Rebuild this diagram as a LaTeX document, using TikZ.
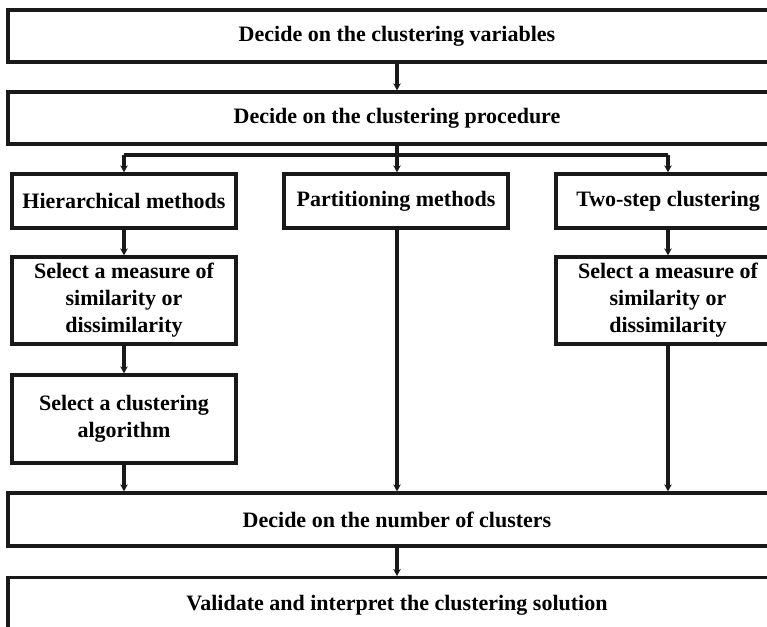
\documentclass[tikz,border=0pt]{standalone}
\usepackage{fontspec}
\setmainfont{Liberation Serif}
\usetikzlibrary{arrows.meta,shadows}
\begin{document}
\begin{tikzpicture}[x=1pt,y=-1pt,
  box/.style={draw=black!90,line width=3.3pt,fill=white,align=center,
    font=\bfseries\fontsize{22}{27}\selectfont,inner sep=0pt,
    drop shadow={shadow xshift=1.8pt,shadow yshift=-1.8pt,opacity=.22}},
  wide/.style={box,minimum width=778pt,minimum height=52pt},
  small/.style={box,minimum width=224pt},
  link/.style={line width=3.1pt,draw=black!90,-{Stealth[length=7pt,width=7.5pt]}},
  rail/.style={line width=4pt,draw=black!90}]
\useasboundingbox (0,0) rectangle (767,626);
\clip (0,0) rectangle (767,626);
% main sequence
\node[wide] (vars) at (397,36) {Decide on the clustering variables};
\node[wide] (proc) at (397,118) {Decide on the clustering procedure};
% three families of methods
\node[small,minimum height=54pt] (hier) at (124,201) {Hierarchical methods};
\node[small,minimum height=54pt] (part) at (396,201) {Partitioning methods};
\node[small,minimum height=54pt] (two) at (668,201) {Two-step clustering};
\node[small,minimum height=87pt] (meas1) at (124,300.5) {Select a measure of\\similarity or\\dissimilarity};
\node[small,minimum height=88pt] (algo) at (124,419) {Select a clustering\\algorithm};
\node[small,minimum height=87pt] (meas2) at (668,300.5) {Select a measure of\\similarity or\\dissimilarity};
% closing steps
\node[wide,minimum height=53pt] (num) at (397,519.5) {Decide on the number of clusters};
\node[wide,minimum height=84pt,anchor=north] (valid) at (397,576) {};
\node[font=\bfseries\fontsize{22}{27}\selectfont] (validtxt) at (397,605) {Validate and interpret the clustering solution};
% connectors
\draw[link] (vars.south) -- (proc.north);
\coordinate (split) at (397,155);
\draw[rail] (hier.north |- split) -- (two.north |- split);
\draw[link] (proc.south) -- (part.north -| proc.south);
\draw[link] (hier.north |- split) -- (hier.north);
\draw[link] (two.north |- split) -- (two.north);
\draw[link] (hier.south) -- (meas1.north);
\draw[link] (meas1.south) -- (algo.north);
\draw[link] (algo.south) -- (num.north -| algo.south);
\draw[link] (part.south -| proc.south) -- (num.north -| proc.south);
\draw[link] (two.south) -- (meas2.north);
\draw[link] (meas2.south) -- (num.north -| meas2.south);
\draw[link] (num.south) -- (valid.north);
\end{tikzpicture}
\end{document}
